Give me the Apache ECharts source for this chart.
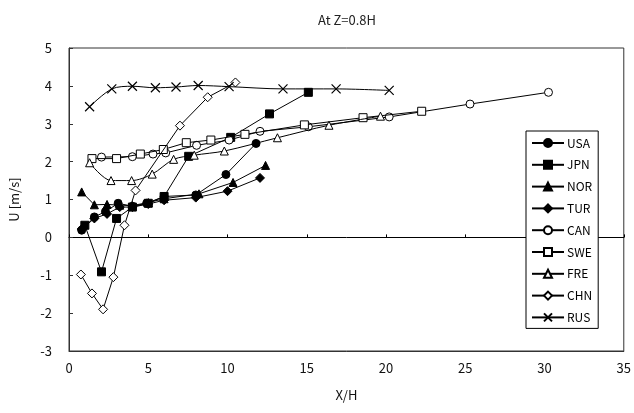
<!DOCTYPE html>
<html>
<head>
<meta charset="utf-8">
<script src="https://cdn.jsdelivr.net/npm/echarts@6/dist/echarts.min.js"></script>
<style>html,body{margin:0;padding:0;background:#fff;}#c{width:634px;height:413px;}</style>
</head>
<body>
<div id="c"></div>
<script>
const titleText = 'At Z=0.8H';
const xName = 'X/H';
const yName = 'U [m/s]';
const seriesNames = ['USA','JPN','NOR','TUR','CAN','SWE','FRE','CHN','RUS'];

const usa = [[0.8,0.19],[1.6,0.54],[2.3,0.68],[3.1,0.9],[4.0,0.82],[4.9,0.9],[6.0,1.08],[8.0,1.12],[9.9,1.66],[11.8,2.48]];
const jpn = [[1.0,0.32],[2.05,-0.91],[3.0,0.5],[4.0,0.8],[5.0,0.9],[6.0,1.08],[7.55,2.14],[10.2,2.64],[12.65,3.26],[15.1,3.83]];
const nor = [[0.8,1.2],[1.6,0.86],[2.4,0.87],[3.2,0.85],[4.0,0.84],[5.0,0.92],[6.0,1.02],[8.2,1.15],[10.35,1.45],[12.4,1.9]];
const tur = [[0.8,0.22],[1.6,0.5],[2.4,0.62],[3.2,0.8],[4.0,0.8],[5.0,0.88],[6.0,0.98],[8.0,1.05],[10.0,1.22],[12.05,1.57]];
const can = [[2.05,2.12],[4.0,2.13],[5.3,2.2],[6.1,2.23],[8.05,2.43],[10.1,2.57],[12.05,2.8],[15.1,2.92],[20.2,3.18],[25.3,3.52],[30.25,3.83]];
const swe = [[1.45,2.08],[3.0,2.08],[4.5,2.2],[5.95,2.32],[7.4,2.5],[8.95,2.57],[11.1,2.72],[14.85,2.97],[18.55,3.16],[22.25,3.33]];
const fre = [[1.3,1.97],[2.65,1.5],[3.95,1.5],[5.25,1.67],[6.6,2.06],[7.9,2.17],[9.8,2.28],[13.15,2.63],[16.4,2.96],[19.65,3.2]];
const chn = [[0.75,-0.98],[1.45,-1.48],[2.15,-1.9],[2.8,-1.05],[3.5,0.32],[4.2,1.24],[7.0,2.95],[8.75,3.7],[10.5,4.09]];
const rus = [[1.3,3.45],[2.7,3.92],[4.0,3.99],[5.45,3.95],[6.75,3.97],[8.15,4.01],[10.1,3.98],[13.5,3.92],[16.85,3.92],[20.2,3.88]];

const allData = [usa, jpn, nor, tur, can, swe, fre, chn, rus];
const symbols = ['circle','rect','triangle','diamond','circle','rect','triangle','diamond','path://M0,0L10,10M10,0L0,10'];
const filled = [true,true,true,true,false,false,false,false,true];
const sizes = [8,8,8,9,8,8,8,9,9];
const smoothFlags = [false,false,false,false,false,false,0.3,false,0.3];

const FONT = '"Noto Sans CJK JP", "Liberation Sans", sans-serif';

const series = seriesNames.map((n, i) => ({
  name: n,
  type: 'line',
  data: allData[i],
  xAxisIndex: 0,
  yAxisIndex: 0,
  symbol: symbols[i],
  symbolSize: sizes[i],
  smooth: smoothFlags[i],
  lineStyle: { color: '#000', width: 1 },
  itemStyle: i === 8
    ? { color: '#000', borderColor: '#000', borderWidth: 1.2 }
    : { color: filled[i] ? '#000' : '#fff', borderColor: '#000', borderWidth: 1 },
  emphasis: { disabled: true },
  z: 3 + i
}));

const chart = echarts.init(document.getElementById('c'), null, { renderer: 'canvas' });
chart.setOption({
  animation: false,
  backgroundColor: '#fff',
  title: {
    text: titleText,
    left: 342, top: 9, textAlign: 'center',
    textStyle: { fontFamily: FONT, fontSize: 13, fontWeight: 'normal', color: '#222' }
  },
  grid: { left: 66, right: 9, top: 48, bottom: 62, show: true, borderColor: '#333', borderWidth: 1, containLabel: false },
  legend: {
    data: seriesNames,
    orient: 'vertical',
    left: 526, top: 131,
    itemWidth: 32, itemHeight: 10,
    itemGap: 9.8,
    padding: [6, 6, 5, 5],
    backgroundColor: '#fff',
    borderColor: '#000', borderWidth: 1,
    textStyle: { fontFamily: FONT, fontSize: 12, color: '#000', padding: [0, 0, 0, -2] }
  },
  xAxis: [{
    type: 'value', min: 0, max: 35, interval: 5,
    position: 'bottom',
    axisLine: { show: true, onZero: false, lineStyle: { color: '#333', width: 1 } },
    axisTick: { show: false },
    splitLine: { show: false },
    axisLabel: { fontFamily: FONT, fontSize: 13, color: '#111', margin: 11 },
    name: xName, nameLocation: 'middle', nameGap: 38,
    nameTextStyle: { fontFamily: FONT, fontSize: 13, color: '#111' }
  }, {
    type: 'value', min: 0, max: 35, interval: 5,
    position: 'bottom',
    axisLine: { show: true, onZero: true, lineStyle: { color: '#000', width: 1 } },
    axisTick: { show: true, inside: true, length: 3, lineStyle: { color: '#000' } },
    axisLabel: { show: false },
    splitLine: { show: false }
  }],
  yAxis: {
    type: 'value', min: -3, max: 5, interval: 1,
    axisLine: { show: true, lineStyle: { color: '#333', width: 1 } },
    axisTick: { show: true, inside: true, length: 4, lineStyle: { color: '#333' } },
    splitLine: { show: false },
    axisLabel: { fontFamily: FONT, fontSize: 13, color: '#111', margin: 17 },
    name: yName, nameLocation: 'middle', nameGap: 48, nameRotate: 90,
    nameTextStyle: { fontFamily: FONT, fontSize: 13, color: '#111' }
  },
  series: series
});
</script>
</body>
</html>
